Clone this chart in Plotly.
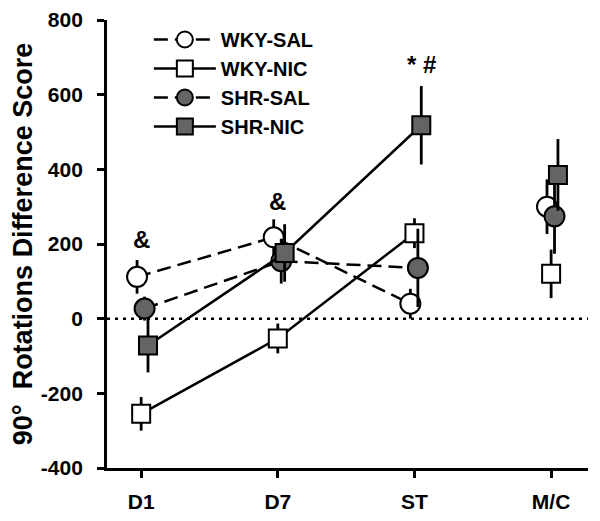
import plotly.graph_objects as go

categories = ["D1", "D7", "ST", "M/C"]

wky_sal = [112, 218, 40, 300]
wky_sal_err = [45, 48, 40, 73]
wky_nic = [-255, -53, 229, 120]
wky_nic_err = [45, 40, 40, 65]
shr_sal = [27, 154, 136, 274]
shr_sal_err = [32, 60, 105, 100]
shr_nic = [-72, 176, 518, 385]
shr_nic_err = [72, 77, 105, 96]

y_ticks = [-400, -200, 0, 200, 400, 600, 800]

FONT = "Liberation Sans, Arial, sans-serif"
GRAY = "#646464"

series = [
    ("WKY-SAL", wky_sal, wky_sal_err, "circle", "white", "14px,7px", -0.03, 20),
    ("WKY-NIC", wky_nic, wky_nic_err, "square", "white", "solid", 0.0, 18),
    ("SHR-SAL", shr_sal, shr_sal_err, "circle", GRAY, "14px,7px", 0.025, 20),
    ("SHR-NIC", shr_nic, shr_nic_err, "square", GRAY, "solid", 0.05, 18),
]

fig = go.Figure()
for name, vals, errs, sym, fill, dash, off, size in series:
    xs = [i + off for i in range(len(categories))]
    fig.add_trace(go.Scatter(
        x=xs[:3], y=vals[:3], mode="lines+markers", name=name,
        legendgroup=name,
        line=dict(color="black", width=2.5, dash=dash),
        marker=dict(symbol=sym, size=size, color=fill,
                    line=dict(color="black", width=2)),
        error_y=dict(type="data", array=errs[:3], width=0, thickness=2.8, color="black"),
    ))
    fig.add_trace(go.Scatter(
        x=xs[3:], y=vals[3:], mode="markers", name=name, showlegend=False,
        legendgroup=name,
        marker=dict(symbol=sym, size=size, color=fill,
                    line=dict(color="black", width=2)),
        error_y=dict(type="data", array=errs[3:], width=0, thickness=2.8, color="black"),
    ))

fig.add_shape(type="line", xref="paper", x0=0, x1=1, yref="y", y0=0, y1=0,
              line=dict(color="black", width=2.5, dash="3px,5px"), layer="below")

ann_font = dict(family=FONT, size=24, color="black")
fig.add_annotation(x=0, y=213, text="<b>&</b>", showarrow=False, font=ann_font)
fig.add_annotation(x=1, y=314, text="<b>&</b>", showarrow=False, font=ann_font)
fig.add_annotation(x=2.05, y=680, text="<b>* #</b>", showarrow=False, font=ann_font)

# page body has an 8px default margin, so the figure is sized to fit the window
fig.update_layout(
    width=592, height=513,
    margin=dict(l=99, r=12, t=12, b=53, autoexpand=False),
    plot_bgcolor="white", paper_bgcolor="white",
    font=dict(family=FONT, color="black"),
    showlegend=True,
    legend=dict(
        x=0.087, y=1.0, xanchor="left", yanchor="top",
        bgcolor="rgba(255,255,255,0)",
        font=dict(family=FONT, size=20, color="black", weight="bold"),
        itemwidth=62, tracegroupgap=3, traceorder="normal",
    ),
    xaxis=dict(
        range=[-0.25, 3.27], tickmode="array", tickvals=list(range(len(categories))),
        ticktext=[f"<b>{c}</b>" for c in categories],
        showline=True, linecolor="black", linewidth=2.8,
        ticks="outside", ticklen=7, tickwidth=2.5, tickcolor="black",
        showgrid=False, zeroline=False, automargin=False,
        tickfont=dict(family=FONT, size=21, color="black"),
        ticklabelstandoff=6, ticklabeloverflow="allow",
    ),
    yaxis=dict(
        range=[-400, 800], tickmode="array", tickvals=y_ticks,
        ticktext=[f"<b>{v}</b>" for v in y_ticks],
        showline=True, linecolor="black", linewidth=2.8,
        ticks="outside", ticklen=7, tickwidth=2.5, tickcolor="black",
        showgrid=False, zeroline=False, automargin=False,
        tickfont=dict(family=FONT, size=21, color="black"),
        ticklabelstandoff=10, ticklabeloverflow="allow",
        title=dict(text="<b>90°  Rotations Difference Score</b>",
                   font=dict(family=FONT, size=27, color="black"), standoff=6),
    ),
)

fig.write_html("out.html")
